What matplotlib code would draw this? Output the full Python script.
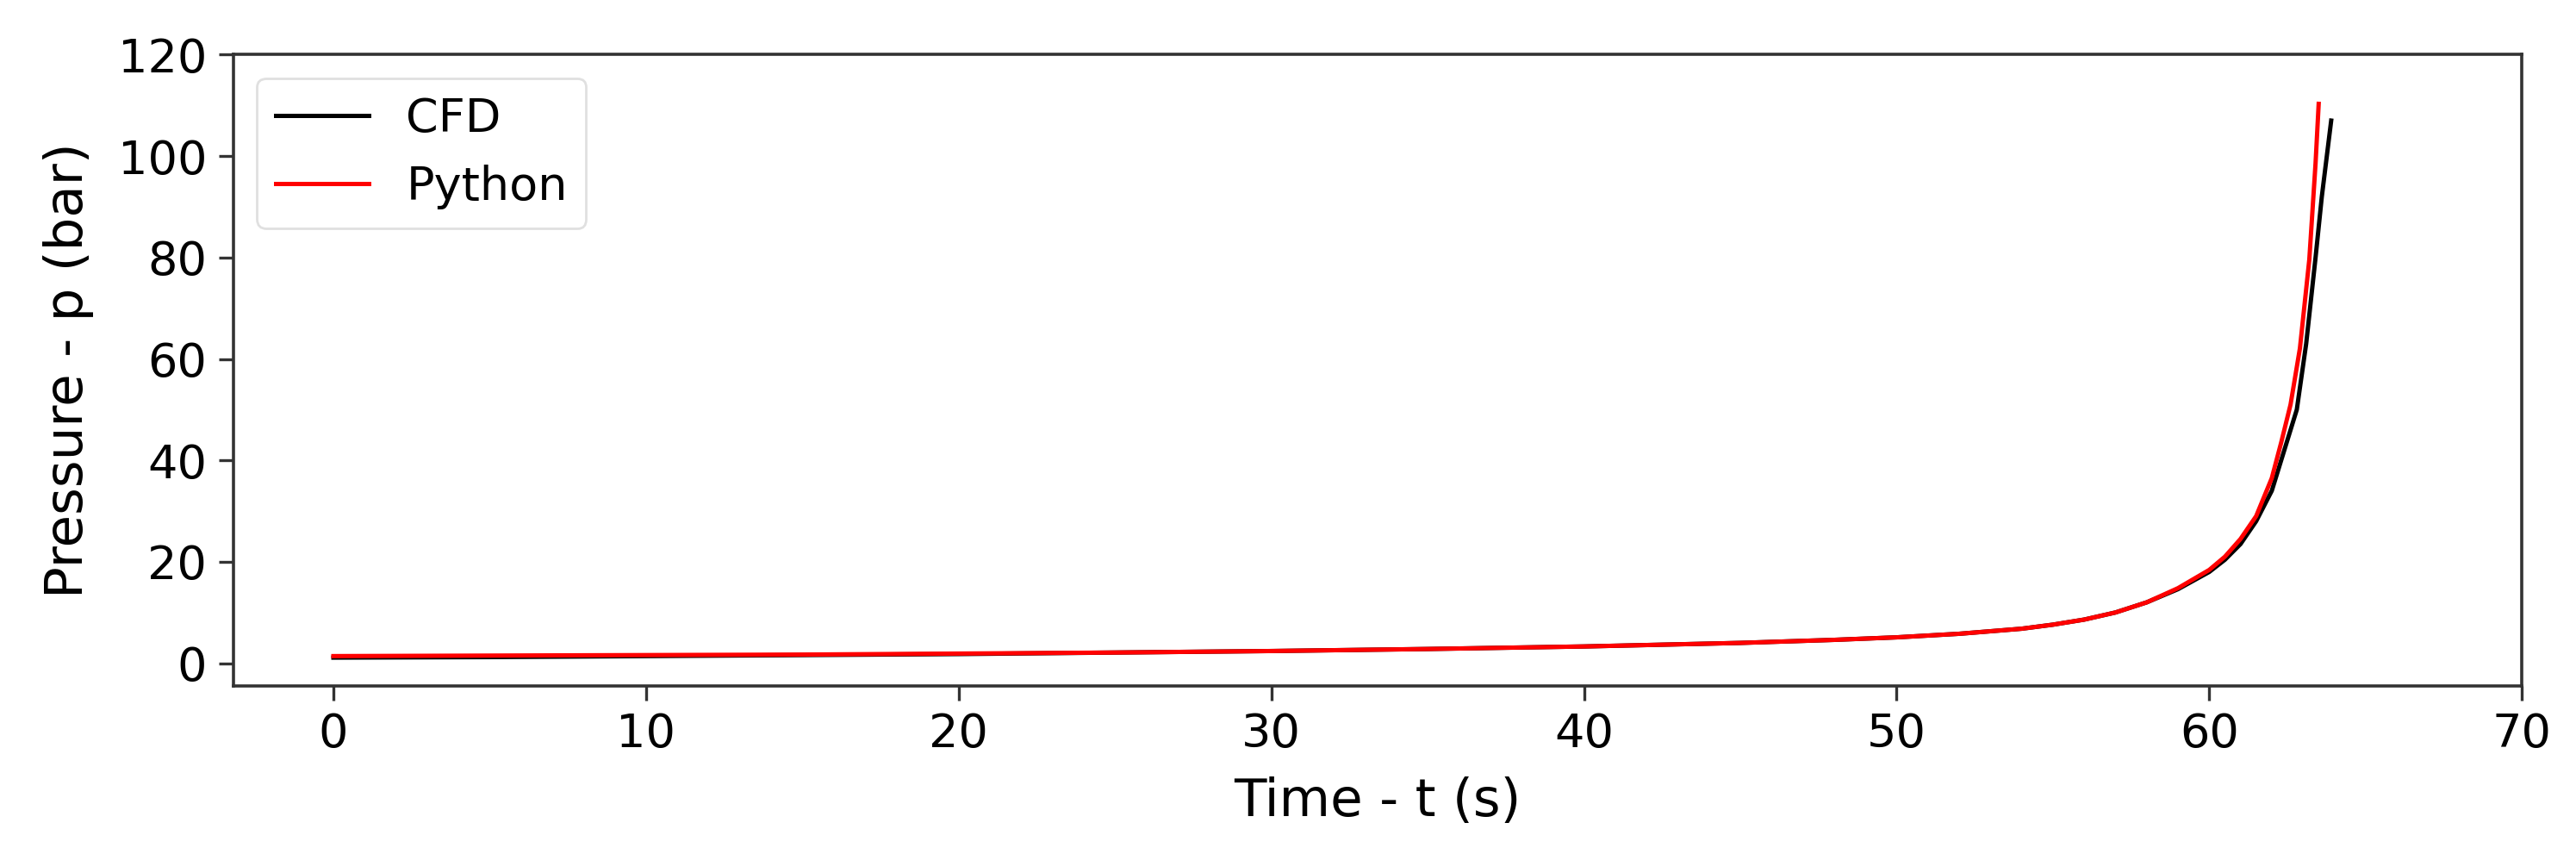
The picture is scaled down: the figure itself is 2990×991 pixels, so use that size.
import matplotlib
matplotlib.use("Agg")
import matplotlib.pyplot as plt

# CFD result
t_cfd = [0, 5, 10, 15, 20, 25, 30, 35, 40, 45, 48, 50, 52, 54, 55, 56, 57, 58,
         59, 60, 60.5, 61, 61.5, 62, 62.4, 62.8, 63.1, 63.4, 63.6, 63.9]
p_cfd = [1.1, 1.2, 1.4, 1.6, 1.8, 2.1, 2.4, 2.8, 3.3, 4.0, 4.6, 5.1, 5.8, 6.8,
         7.6, 8.6, 10.0, 12.0, 14.6, 18.0, 20.4, 23.5, 28.0, 34.0, 42.0, 50.0,
         63.0, 80.0, 92.0, 107.0]

# Python model
t_py = [0, 5, 10, 15, 20, 25, 30, 35, 40, 45, 48, 50, 52, 54, 55, 56, 57, 58,
        59, 60, 60.5, 61, 61.5, 62, 62.3, 62.6, 62.9, 63.2, 63.4, 63.5]
p_py = [1.4, 1.5, 1.6, 1.7, 1.9, 2.1, 2.4, 2.8, 3.3, 4.0, 4.6, 5.1, 5.8, 6.8,
        7.6, 8.6, 10.0, 12.0, 14.8, 18.4, 21.0, 24.5, 29.0, 36.5, 43.5, 51.0,
        62.1, 79.6, 98.6, 110.3]

fig = plt.figure(figsize=(14.95, 4.955), dpi=200)
ax = fig.add_axes([0.0906, 0.197, 0.979 - 0.0906, 0.936 - 0.197])

ax.plot(t_cfd, p_cfd, color="black", lw=1.8, label="CFD")
ax.plot(t_py, p_py, color="red", lw=1.8, label="Python")

ax.set_xlim(-3.2, 70)
ax.set_ylim(-4.45, 120)
ax.set_xticks(range(0, 71, 10))
ax.set_yticks(range(0, 121, 20))

ax.set_xlabel("Time - t (s)", fontsize=22, labelpad=8)
ax.set_ylabel("Pressure - p (bar)", fontsize=22, labelpad=10)
ax.tick_params(labelsize=19.5, length=6, width=1.2, color="#333333", pad=5)
for s in ax.spines.values():
    s.set_linewidth(1.3)
    s.set_color("#333333")

leg = ax.legend(loc="upper left", fontsize=19.5)
leg.get_frame().set_edgecolor("#d9d9d9")

fig.savefig("out.png", dpi=200)
